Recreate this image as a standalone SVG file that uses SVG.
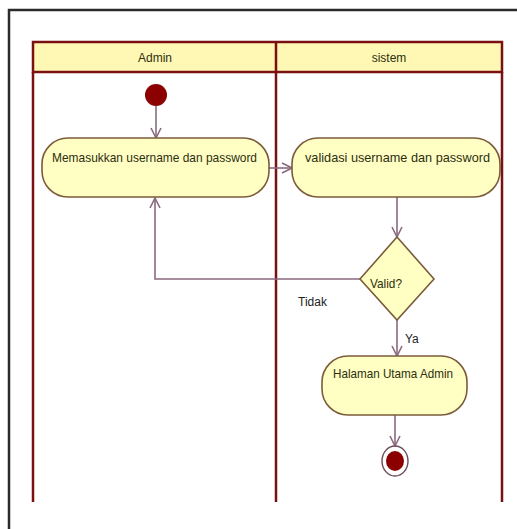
<svg xmlns="http://www.w3.org/2000/svg" width="517" height="529" viewBox="0 0 517 529">
  <defs>
    <style>
      .frame { fill: none; stroke: #2b2b2b; stroke-width: 2.5; }
      .lane { fill: none; stroke: #7a1010; stroke-width: 2.5; }
      .head { fill: #fff8b4; stroke: #7a1010; stroke-width: 2.5; }
      .act { fill: #ffffc4; stroke: #7b5b3a; stroke-width: 1.6; }
      .conn { fill: none; stroke: #8a6a80; stroke-width: 1.6; }
      .lbl { font-family: "Liberation Sans", Arial, sans-serif; font-size: 13px; fill: #2e2e10; }
      .hdr { font-family: "Liberation Sans", Arial, sans-serif; font-size: 12px; fill: #2e2e10; }
      .txt { font-family: "Liberation Sans", Arial, sans-serif; font-size: 12px; fill: #222; }
    </style>
    <marker id="open" viewBox="0 0 12 12" refX="11" refY="6" markerWidth="12" markerHeight="12" markerUnits="userSpaceOnUse" orient="auto">
      <path d="M1,1 L11,6 L1,11" fill="none" stroke="#8a6a80" stroke-width="1.6"/>
    </marker>
  </defs>

  <rect x="0" y="0" width="517" height="529" fill="#ffffff"/>
  <!-- outer frame -->
  <path class="frame" d="M9,529 L9,10 L517,10"/>

  <!-- swimlanes -->
  <g id="lanes">
    <rect class="head" x="33" y="42" width="469" height="30"/>
    <line class="lane" x1="33" y1="72" x2="33" y2="502"/>
    <line class="lane" x1="276" y1="42" x2="276" y2="502"/>
    <line class="lane" x1="502" y1="72" x2="502" y2="502"/>
    <text class="hdr" x="155" y="62" text-anchor="middle">Admin</text>
    <text class="hdr" x="389" y="62" text-anchor="middle">sistem</text>
  </g>

  <!-- connectors -->
  <g id="connectors">
    <line class="conn" x1="156" y1="106" x2="156" y2="138" marker-end="url(#open)"/>
    <line class="conn" x1="269" y1="168" x2="292" y2="168" marker-end="url(#open)"/>
    <line class="conn" x1="397" y1="197" x2="397" y2="237" marker-end="url(#open)"/>
    <path class="conn" d="M360,279 L155,279 L155,198" marker-end="url(#open)"/>
    <line class="conn" x1="397" y1="320" x2="397" y2="356" marker-end="url(#open)"/>
    <line class="conn" x1="395" y1="415" x2="395" y2="446" marker-end="url(#open)"/>
    <text class="txt" x="298" y="306">Tidak</text>
    <text class="txt" x="405" y="343">Ya</text>
  </g>

  <g id="start">
    <circle cx="156" cy="95" r="11" fill="#8b0000"/>
  </g>

  <g id="input">
    <rect class="act" x="42" y="138" width="227" height="59" rx="26" ry="26"/>
    <text class="lbl" x="52" y="162" textLength="205" lengthAdjust="spacingAndGlyphs">Memasukkan username dan password</text>
  </g>

  <g id="validate">
    <rect class="act" x="292" y="138" width="208" height="59" rx="26" ry="26"/>
    <text class="lbl" x="305" y="162" textLength="185" lengthAdjust="spacingAndGlyphs">validasi username dan password</text>
  </g>

  <g id="decision">
    <polygon class="act" points="397,237 434,279 397,320 360,279"/>
    <text class="lbl" x="370" y="288" textLength="32" lengthAdjust="spacingAndGlyphs">Valid?</text>
  </g>

  <g id="home">
    <rect class="act" x="322" y="356" width="145" height="59" rx="26" ry="26"/>
    <text class="lbl" x="333" y="378" textLength="120" lengthAdjust="spacingAndGlyphs">Halaman Utama Admin</text>
  </g>

  <g id="end">
    <ellipse cx="395" cy="461" rx="13" ry="15" fill="#ffffff" stroke="#6b4b5b" stroke-width="1.4"/>
    <ellipse cx="395" cy="461" rx="9" ry="10" fill="#8b0000"/>
  </g>
</svg>
